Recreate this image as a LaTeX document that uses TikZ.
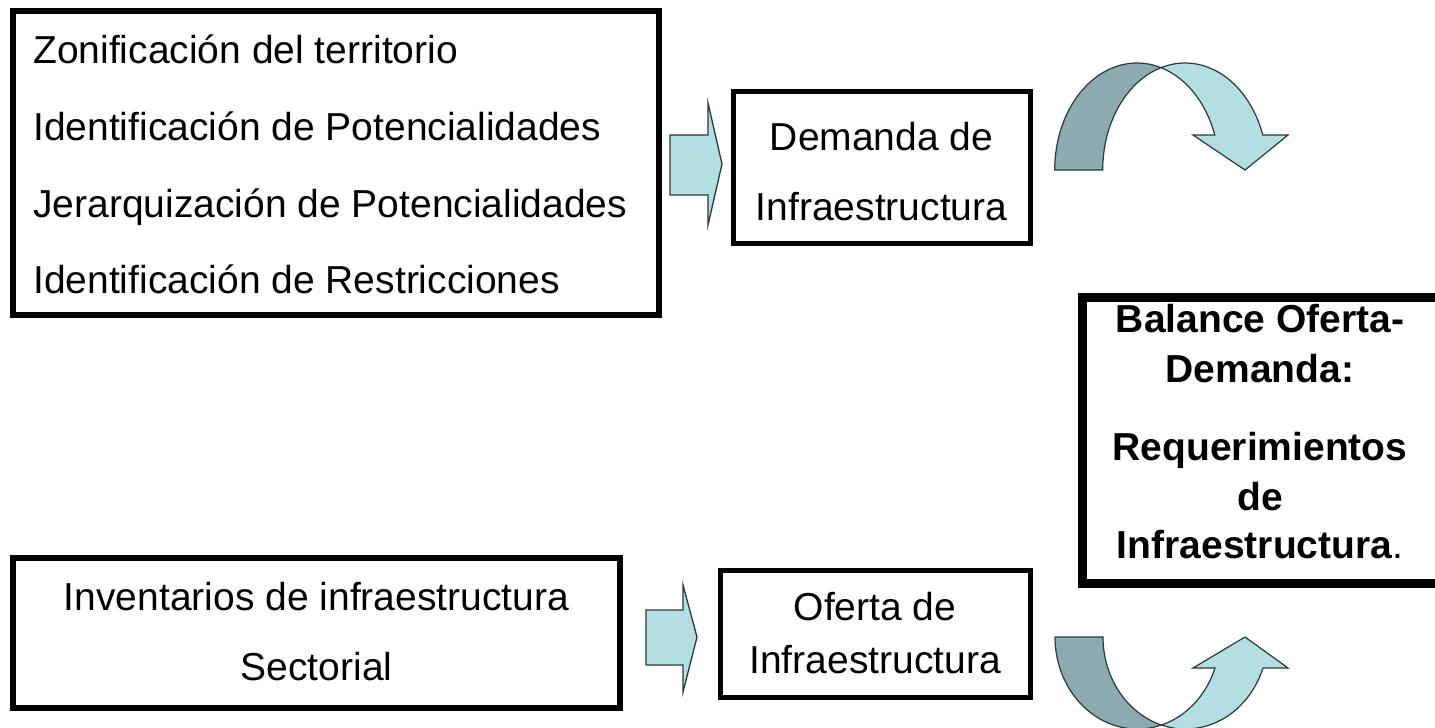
\documentclass[tikz,border=0pt]{standalone}
\usepackage{fontspec}
\setmainfont{Liberation Sans}
\definecolor{arrlight}{HTML}{B4DFE2}
\definecolor{arrdark}{HTML}{8CABB0}
\definecolor{arredge}{HTML}{2A3A3C}
\tikzset{
  box/.style={draw=black, fill=white, inner sep=0pt},
  txt/.style={font=\fontsize{39}{47}\selectfont, inner sep=0pt, anchor=base},
  btxt/.style={font=\fontsize{39}{47}\selectfont\bfseries, inner sep=0pt, anchor=base},
  blockarrow/.style={draw=arredge, fill=arrlight, line width=1.3pt, line join=miter},
  darkband/.style={draw=arredge, fill=arrdark, line width=1.2pt},
  lightband/.style={draw=arredge, fill=arrlight, line width=1.2pt},
}
\begin{document}
\begin{tikzpicture}[x=1pt,y=-1pt]
\useasboundingbox (0,0) rectangle (1435,728);
\fill[white] (0,0) rectangle (1435,728);

% boxes
\node[box, line width=6pt, minimum width=646pt, minimum height=304pt] (zon) at (336,163) {};
\node[box, line width=5pt, minimum width=297pt, minimum height=152pt] (dem) at (881.5,167) {};
\node[box, line width=6pt, minimum width=607pt, minimum height=150pt] (inv) at (316.5,633) {};
\node[box, line width=5pt, minimum width=310pt, minimum height=127pt] (ofe) at (875,633.5) {};
\begin{scope}
\clip (0,0) rectangle (1435,728);
\node[box, line width=9pt, minimum width=363pt, minimum height=286pt] (bal) at (1263.5,440) {};
\end{scope}

% texts
\node[txt, anchor=base west] (z1) at (33,63) {Zonificación del territorio};
\node[txt, anchor=base west] (z2) at (33,140) {Identificación de Potencialidades};
\node[txt, anchor=base west] (z3) at (33,217) {Jerarquización de Potencialidades};
\node[txt, anchor=base west] (z4) at (33,293) {Identificación de Restricciones};

\node[txt] (d1) at (881.5,150) {Demanda de};
\node[txt] (d2) at (881.5,220) {Infraestructura};

\node[txt] (i1) at (316.5,610) {Inventarios de infraestructura};
\node[txt] (i2) at (316.5,680) {Sectorial};

\node[txt] (o1) at (875,620) {Oferta de};
\node[txt] (o2) at (875,673) {Infraestructura};

\node[btxt] (b1) at (1260,332) {Balance Oferta-};
\node[btxt] (b2) at (1260,382) {Demanda:};
\node[btxt] (b3) at (1260,460) {Requerimientos};
\node[btxt] (b4) at (1260,510) {de};
\node[btxt] (b5) at (1260,558) {Infraestructura\mdseries.};

% small block arrows
\draw[blockarrow] (670,135) -- (708,135) -- (708,103) -- (722,164) -- (708,225) -- (708,195) -- (670,195) -- cycle;
\draw[blockarrow] (646,610) -- (683,610) -- (683,585) -- (697,637) -- (683,692) -- (683,665) -- (646,665) -- cycle;

% curved arrow (top): ellipses A (cx=1137) and B (cx=1185), cy=170, rx=82.3, ry=107
\draw[darkband] plot[domain=180:73.05, samples=40] ({1137+82.3*cos(\x)},{170-107*sin(\x)})
   -- plot[domain=106.95:180, samples=40] ({1185+82.3*cos(\x)},{170-107*sin(\x)}) -- cycle;
\draw[lightband] plot[domain=106.95:19.09, samples=50] ({1185+82.3*cos(\x)},{170-107*sin(\x)})
   -- (1288,135) -- (1245,170) -- (1193,135)
   -- plot[domain=19.09:73.05, samples=40] ({1137+82.3*cos(\x)},{170-107*sin(\x)}) -- cycle;

% curved arrow (bottom): cy=637, ry=92
\draw[darkband] plot[domain=180:73.05, samples=40] ({1137.4+82.4*cos(\x)},{637+92*sin(\x)})
   -- plot[domain=106.95:180, samples=40] ({1185.4+82.4*cos(\x)},{637+92*sin(\x)}) -- cycle;
\draw[lightband] plot[domain=106.95:19.7, samples=50] ({1185.4+82.4*cos(\x)},{637+92*sin(\x)})
   -- (1288,668) -- (1245,637) -- (1193,668)
   -- plot[domain=19.7:73.05, samples=40] ({1137.4+82.4*cos(\x)},{637+92*sin(\x)}) -- cycle;
\end{tikzpicture}
\end{document}
